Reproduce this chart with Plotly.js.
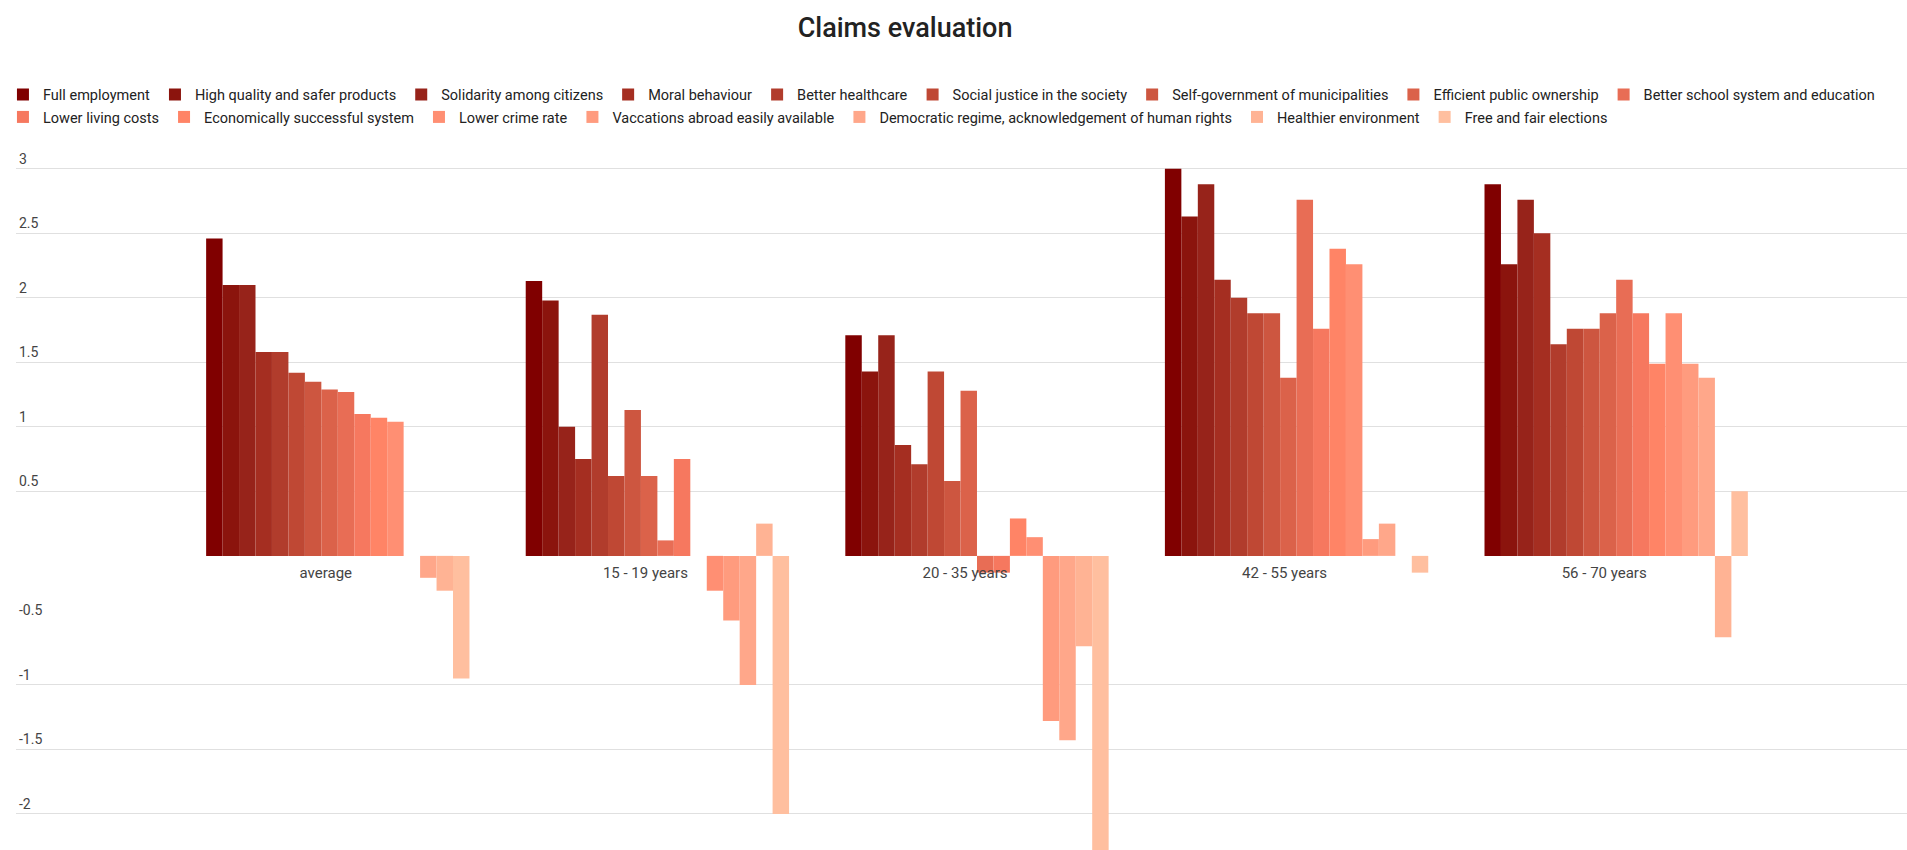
<!DOCTYPE html>
<html>
<head>
<meta charset="utf-8">
<script src="https://cdn.plot.ly/plotly-3.0.1.min.js"></script>
<style>
  html, body { margin: 0; padding: 0; background: #ffffff; }
  #chart { width: 1907px; height: 850px; }
</style>
</head>
<body>
<div id="chart"></div>
<script>
// ---- Data ----
const categories = ['average', '15 - 19 years', '20 - 35 years', '42 - 55 years', '56 - 70 years'];

const seriesNames = [
  'Full employment',
  'High quality and safer products',
  'Solidarity among citizens',
  'Moral behaviour',
  'Better healthcare',
  'Social justice in the society',
  'Self-government of municipalities',
  'Efficient public ownership',
  'Better school system and education',
  'Lower living costs',
  'Economically successful system',
  'Lower crime rate',
  'Vaccations abroad easily available',
  'Democratic regime, acknowledgement of human rights',
  'Healthier environment',
  'Free and fair elections'
];

const seriesColors = [
  '#800000', '#8b140d', '#97231a', '#a52e21', '#b13c2c', '#bf4834',
  '#cd5640', '#db624a', '#e86d55', '#f6785f', '#ff8466', '#ff8f73',
  '#ff9b7e', '#ffa78a', '#ffb394', '#ffbf9f'
];

const fullEmployment      = [2.46, 2.13, 1.71, 3.00, 2.88];
const highQuality         = [2.10, 1.98, 1.43, 2.63, 2.26];
const solidarity          = [2.10, 1.00, 1.71, 2.88, 2.76];
const moralBehaviour      = [1.58, 0.75, 0.86, 2.14, 2.50];
const betterHealthcare    = [1.58, 1.87, 0.71, 2.00, 1.64];
const socialJustice       = [1.42, 0.62, 1.43, 1.88, 1.76];
const selfGovernment      = [1.35, 1.13, 0.58, 1.88, 1.76];
const publicOwnership     = [1.29, 0.62, 1.28, 1.38, 1.88];
const betterSchool        = [1.27, 0.12, -0.13, 2.76, 2.14];
const lowerLivingCosts    = [1.10, 0.75, -0.13, 1.76, 1.88];
const economicSuccess     = [1.07, 0.00, 0.29, 2.38, 1.49];
const lowerCrime          = [1.04, -0.27, 0.145, 2.26, 1.88];
const vacationsAbroad     = [0.00, -0.50, -1.28, 0.13, 1.49];
const democraticRegime    = [-0.17, -1.00, -1.43, 0.25, 1.38];
const healthierEnv        = [-0.27, 0.25, -0.70, 0.00, -0.63];
const freeElections       = [-0.95, -2.00, -2.33, -0.13, 0.50];

const seriesValues = [
  fullEmployment, highQuality, solidarity, moralBehaviour, betterHealthcare,
  socialJustice, selfGovernment, publicOwnership, betterSchool, lowerLivingCosts,
  economicSuccess, lowerCrime, vacationsAbroad, democraticRegime, healthierEnv, freeElections
];

const gridTicks = [3, 2.5, 2, 1.5, 1, 0.5, -1, -1.5, -2];
const gridTickText = ['3', '2.5', '2', '1.5', '1', '0.5', '-1', '-1.5', '-2'];
const extraTicks = [-0.5];
const extraTickText = ['-0.5'];

// ---- Build chart ----
const yRange = [-2.28, 3.03];
const fontFamily = 'Roboto, "Open Sans", sans-serif';

const traces = seriesNames.map((name, i) => ({
  type: 'bar',
  name: name,
  x: categories,
  y: seriesValues[i],
  marker: { color: seriesColors[i], line: { width: 0 } },
  legend: i < 9 ? 'legend' : 'legend2',
  hovertemplate: '%{x}<br>' + name + ': %{y}<extra></extra>'
}));

const legendFont = { family: fontFamily, size: 14.5, color: '#222222' };
const plotTop = 165;
const plotH = 850 - plotTop;

const layout = {
  width: 1907,
  height: 850,
  margin: { l: 16, r: 0, t: plotTop, b: 0, pad: 0 },
  paper_bgcolor: '#ffffff',
  plot_bgcolor: '#ffffff',
  font: { family: fontFamily, size: 14, color: '#444444' },
  title: {
    text: 'Claims evaluation',
    font: { family: fontFamily, size: 27, weight: 500, color: '#222222' },
    x: 0.4746, xanchor: 'center', xref: 'container',
    y: 0.968, yanchor: 'middle', yref: 'container'
  },
  barmode: 'group',
  bargap: 0.176,
  bargroupgap: 0,
  showlegend: true,
  legend: {
    orientation: 'h', x: -0.0069, xanchor: 'left', y: 1 + (plotTop - 78.5) / plotH, yanchor: 'top',
    font: legendFont, traceorder: 'normal', bgcolor: 'rgba(0,0,0,0)'
  },
  legend2: {
    orientation: 'h', x: -0.0069, xanchor: 'left', y: 1 + (plotTop - 101) / plotH, yanchor: 'top',
    font: legendFont, traceorder: 'normal', bgcolor: 'rgba(0,0,0,0)'
  },
  xaxis: {
    type: 'category',
    range: [-1.0069, 4.910],
    anchor: 'free',
    position: (0 - yRange[0]) / (yRange[1] - yRange[0]),
    showgrid: false, showline: false, zeroline: false,
    ticks: '',
    ticklabelstandoff: 6,
    ticklabelshift: -12,
    tickfont: { family: fontFamily, size: 15, color: '#444444' },
    fixedrange: true
  },
  yaxis: {
    range: yRange,
    domain: [0, 1],
    tickmode: 'array',
    tickvals: gridTicks,
    ticktext: gridTickText,
    showgrid: true, gridcolor: '#e0e0e0', gridwidth: 1,
    zeroline: false, showline: false,
    ticks: '',
    ticklabelposition: 'inside top',
    ticklabeloverflow: 'allow',
    tickfont: { family: fontFamily, size: 14, color: '#444444' },
    fixedrange: true
  },
  yaxis2: {
    overlaying: 'y',
    side: 'left',
    anchor: 'x',
    range: yRange,
    tickmode: 'array',
    tickvals: extraTicks,
    ticktext: extraTickText,
    showgrid: false, zeroline: false, showline: false,
    ticks: '',
    ticklabelposition: 'inside top',
    ticklabeloverflow: 'allow',
    tickfont: { family: fontFamily, size: 14, color: '#444444' },
    fixedrange: true
  },
  hovermode: 'closest'
};

// invisible trace to activate yaxis2 tick label
traces.push({
  type: 'scatter', x: [categories[0]], y: [null], yaxis: 'y2',
  showlegend: false, hoverinfo: 'skip', mode: 'markers'
});

Plotly.newPlot('chart', traces, layout, { displayModeBar: false, responsive: false });
</script>
</body>
</html>
